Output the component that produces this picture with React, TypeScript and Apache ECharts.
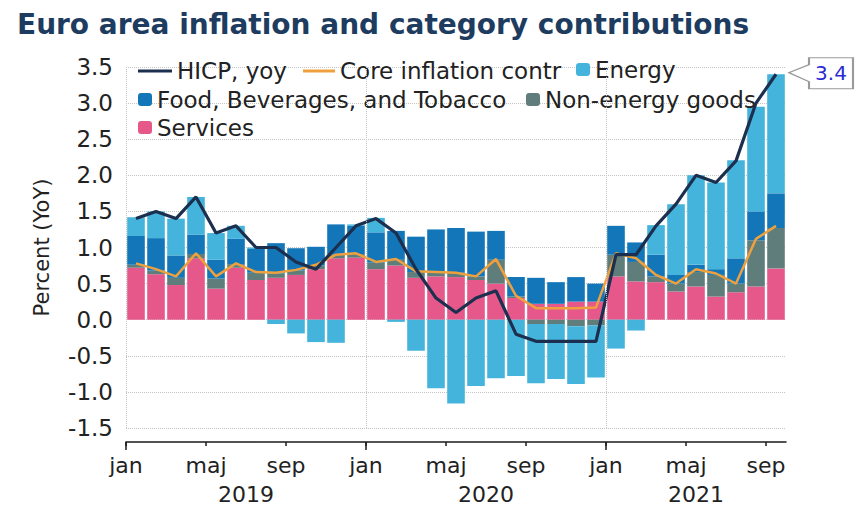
import React, { useEffect, useRef } from "react";
import * as echarts from "echarts";

const categories = [
  "2019-01", "2019-02", "2019-03", "2019-04", "2019-05", "2019-06", "2019-07", "2019-08", "2019-09", "2019-10", "2019-11", "2019-12",
  "2020-01", "2020-02", "2020-03", "2020-04", "2020-05", "2020-06", "2020-07", "2020-08", "2020-09", "2020-10", "2020-11", "2020-12",
  "2021-01", "2021-02", "2021-03", "2021-04", "2021-05", "2021-06", "2021-07", "2021-08", "2021-09",
];

const services = [
  0.72, 0.63, 0.48, 0.85, 0.43, 0.72, 0.55, 0.58, 0.62, 0.70, 0.85, 0.86,
  0.70, 0.75, 0.58, 0.60, 0.59, 0.55, 0.50, 0.30, 0.22, 0.22, 0.25, 0.25,
  0.60, 0.53, 0.52, 0.39, 0.46, 0.32, 0.38, 0.46, 0.71,
];
const nonEnergyGoods = [
  0.04, 0.05, 0.10, 0.06, 0.14, 0.05, 0.10, 0.06, 0.06, 0.05, 0.05, 0.05,
  0.09, 0.08, 0.08, 0.06, 0.06, 0.05, 0.33, 0.02, -0.06, -0.06, -0.09, -0.08,
  0.30, 0.27, 0.08, 0.11, 0.20, 0.30, 0.12, 0.64, 0.56,
];
const food = [
  0.40, 0.45, 0.31, 0.27, 0.26, 0.35, 0.33, 0.42, 0.31, 0.26, 0.42, 0.39,
  0.42, 0.40, 0.49, 0.59, 0.62, 0.62, 0.40, 0.27, 0.36, 0.30, 0.34, 0.25,
  0.40, 0.27, 0.30, 0.12, 0.10, 0.08, 0.35, 0.40, 0.48,
];
const energy = [
  0.26, 0.37, 0.51, 0.52, 0.37, 0.18, 0.02, -0.06, -0.19, -0.31, -0.32, 0.02,
  0.20, -0.03, -0.43, -0.95, -1.16, -0.92, -0.81, -0.78, -0.82, -0.76, -0.80, -0.72,
  -0.40, -0.15, 0.41, 0.98, 1.24, 1.20, 1.36, 1.45, 1.65,
];
const hicp = [
  1.4, 1.5, 1.4, 1.7, 1.2, 1.3, 1.0, 1.0, 0.8, 0.7, 1.0, 1.3,
  1.4, 1.2, 0.7, 0.3, 0.1, 0.3, 0.4, -0.2, -0.3, -0.3, -0.3, -0.3,
  0.9, 0.9, 1.3, 1.6, 2.0, 1.9, 2.2, 3.0, 3.4,
];
const core = [
  0.78, 0.70, 0.60, 0.92, 0.60, 0.78, 0.66, 0.65, 0.69, 0.76, 0.90, 0.92,
  0.80, 0.84, 0.67, 0.66, 0.65, 0.60, 0.84, 0.33, 0.16, 0.16, 0.16, 0.17,
  0.92, 0.85, 0.62, 0.50, 0.70, 0.64, 0.50, 1.12, 1.30,
];

const monthTickLabels = ["jan", "maj", "sep"];
const yearLabels = ["2019", "2020", "2021"];

const FONT = "DejaVu Sans";
const TEXT = "#222222";
const C_SERV = "#e6578a";
const C_NEG = "#5f7e7b";
const C_FOOD = "#1276b8";
const C_ENERGY = "#45b4dc";
const C_HICP = "#1c2f4e";
const C_CORE = "#eea03e";

export default function App() {
  const ref = useRef<HTMLDivElement>(null);

  useEffect(() => {
    document.body.style.margin = "0";
    if (!ref.current) return;
    const chart = echarts.init(ref.current, null, { renderer: "svg" });

    const n = categories.length;
    const monthTickValues: number[] = [];
    for (let i = 0; i < n; i += 4) monthTickValues.push(i);
    const yearStarts: number[] = [];
    const yearCenters: number[] = [];
    yearLabels.forEach((y) => {
      const idx = categories.map((c, i) => (c.startsWith(y) ? i : -1)).filter((i) => i >= 0);
      yearStarts.push(idx[0]);
      yearCenters.push(idx[0] + idx.length / 2);
    });

    const legendBase = {
      padding: 0,
      itemGap: 0,
      selectedMode: false,
      textStyle: { fontSize: 23, color: TEXT, fontFamily: FONT },
    };
    const last = n - 1;

    chart.setOption({
      animation: false,
      backgroundColor: "#ffffff",
      title: {
        text: "Euro area inflation and category contributions",
        left: 12,
        top: 5,
        textStyle: { fontSize: 28, fontWeight: "bold", color: "#1d3c60", fontFamily: FONT },
      },
      legend: [
        { ...legendBase, data: [{ name: "HICP, yoy", icon: "rect" }], left: 138, top: 59.5, itemWidth: 34, itemHeight: 3 },
        { ...legendBase, data: [{ name: "Core inflation contr", icon: "rect" }], left: 303, top: 59.5, itemWidth: 32, itemHeight: 3 },
        { ...legendBase, data: ["Energy"], left: 576, top: 58, itemWidth: 14, itemHeight: 13 },
        { ...legendBase, data: ["Food, Beverages, and Tobacco"], left: 138, top: 88, itemWidth: 14, itemHeight: 13 },
        { ...legendBase, data: ["Non-energy goods"], left: 526, top: 88, itemWidth: 14, itemHeight: 13 },
        { ...legendBase, data: ["Services"], left: 138, top: 116, itemWidth: 14, itemHeight: 13 },
      ],
      grid: { left: 126, right: 72, top: 67, bottom: 82, containLabel: false },
      xAxis: [
        { type: "category", data: categories, show: false, boundaryGap: true },
        {
          type: "value",
          min: 0,
          max: n,
          position: "bottom",
          offset: 14,
          axisLine: { show: true, lineStyle: { color: "#1a1a1a", width: 1.5 } },
          axisTick: { show: true, customValues: monthTickValues, length: 4, lineStyle: { color: "#1a1a1a", width: 1.5 } },
          axisLabel: {
            customValues: monthTickValues,
            formatter: (v: number) => monthTickLabels[Math.round(v / 4) % 3],
            margin: 12,
            fontSize: 22,
            color: TEXT,
            fontFamily: FONT,
          },
          splitLine: { show: false },
        },
        {
          type: "value",
          min: 0,
          max: n,
          position: "bottom",
          offset: 14,
          axisLine: { show: false },
          axisTick: { show: true, customValues: yearStarts, length: 8, lineStyle: { color: "#1a1a1a", width: 1.5 } },
          axisLabel: {
            customValues: yearCenters,
            formatter: (v: number) => yearLabels[yearCenters.findIndex((c) => Math.abs(c - v) < 0.01)] ?? "",
            margin: 41,
            fontSize: 22,
            color: TEXT,
            fontFamily: FONT,
          },
          splitLine: { show: false },
        },
      ],
      yAxis: {
        type: "value",
        min: -1.5,
        max: 3.5,
        interval: 0.5,
        axisLine: { show: false },
        axisTick: { show: false },
        axisLabel: {
          formatter: (v: number) => v.toFixed(1),
          fontSize: 23,
          color: TEXT,
          fontFamily: FONT,
          margin: 13,
        },
        splitLine: { show: true, lineStyle: { type: "dotted", color: "#c4c4c4", width: 1 } },
        name: "Percent (YoY)",
        nameLocation: "middle",
        nameGap: 74,
        nameTextStyle: { fontSize: 21, color: TEXT, fontFamily: FONT },
      },
      series: [
        {
          name: "Services",
          type: "bar",
          stack: "total",
          data: services,
          barCategoryGap: "12%",
          itemStyle: { color: C_SERV },
        },
        { name: "Non-energy goods", type: "bar", stack: "total", data: nonEnergyGoods, itemStyle: { color: C_NEG } },
        { name: "Food, Beverages, and Tobacco", type: "bar", stack: "total", data: food, itemStyle: { color: C_FOOD } },
        { name: "Energy", type: "bar", stack: "total", data: energy, itemStyle: { color: C_ENERGY } },
        {
          name: "vgrid",
          type: "line",
          xAxisIndex: 2,
          data: [],
          silent: true,
          markLine: {
            silent: true,
            symbol: "none",
            label: { show: false },
            lineStyle: { type: "dotted", color: "#c4c4c4", width: 1 },
            data: yearStarts.map((s) => ({ xAxis: s })),
          },
        },
        {
          name: "Core inflation contr",
          type: "line",
          data: core,
          symbol: "none",
          lineStyle: { color: C_CORE, width: 2.5 },
          itemStyle: { color: C_CORE },
          z: 3,
        },
        {
          name: "HICP, yoy",
          type: "line",
          data: hicp,
          symbol: "none",
          lineStyle: { color: C_HICP, width: 3.2 },
          itemStyle: { color: C_HICP },
          z: 4,
          markPoint: {
            silent: true,
            symbol: "path://M0,15 L20,7 L20,0 L64,0 L64,31 L20,31 L20,24 Z",
            symbolSize: [64, 31],
            symbolOffset: [45, -1],
            itemStyle: { color: "#ffffff", borderColor: "#9a9a9a", borderWidth: 1.5 },
            label: {
              show: true,
              position: "inside",
              offset: [10, 0],
              formatter: (p: any) => Number(p.value).toFixed(1),
              color: "#2b2bd4",
              fontSize: 20,
              fontFamily: FONT,
            },
            data: [{ coord: [categories[last], hicp[last]], value: hicp[last] }],
          },
        },
      ],
    });

    return () => chart.dispose();
  }, []);

  return (
    <div
      ref={ref}
      style={{ position: "absolute", left: 0, top: 0, width: 858, height: 510, background: "#fff" }}
    />
  );
}
